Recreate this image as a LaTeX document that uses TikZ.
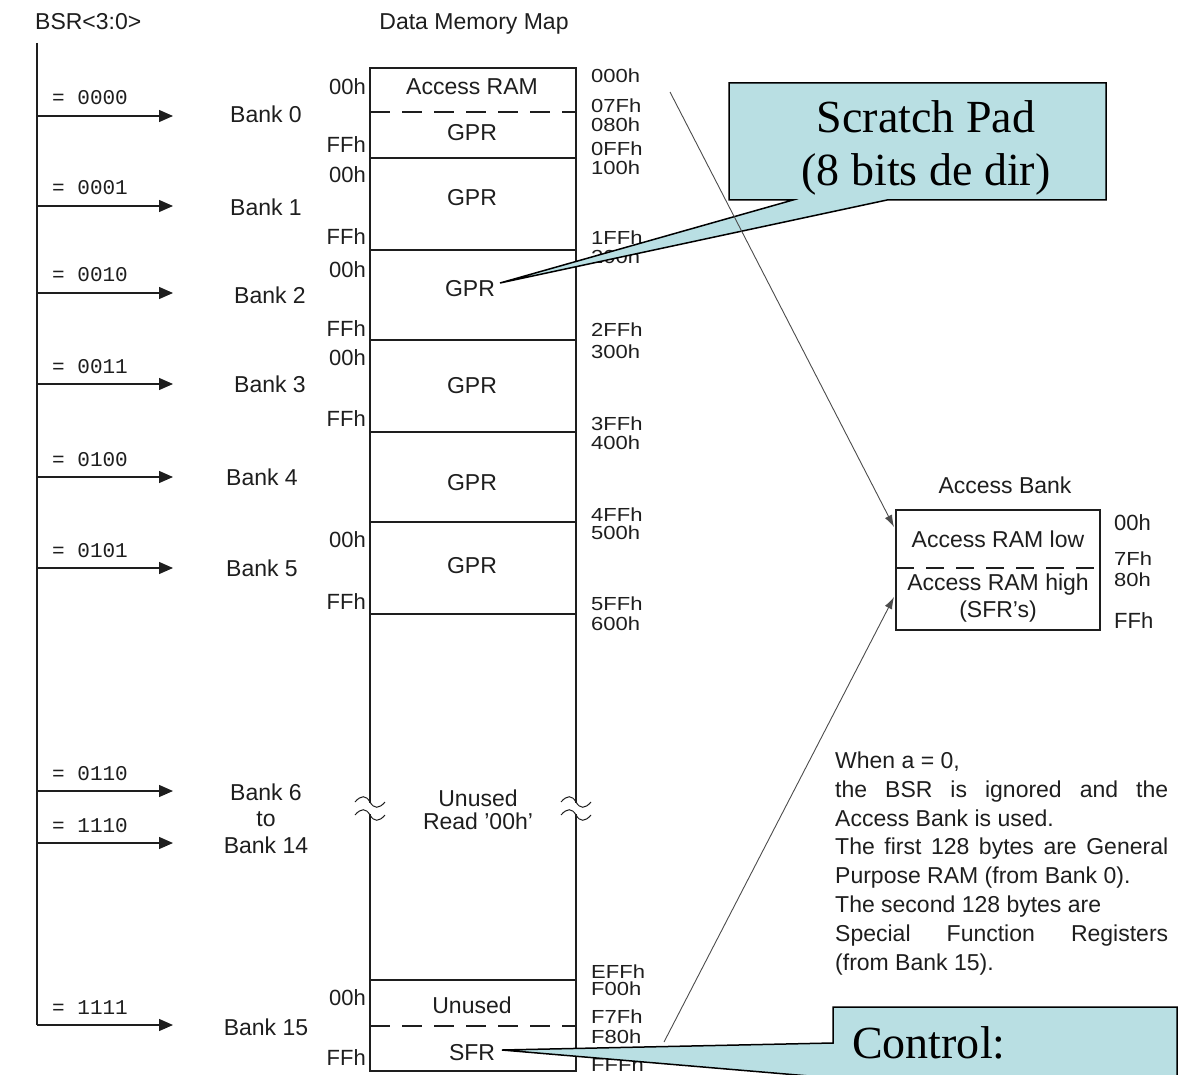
\documentclass[tikz,border=0pt]{standalone}
\usepackage{fontspec}
\setmainfont{Liberation Sans}
\newfontfamily\monof{Liberation Mono}
\newfontfamily\serf{Liberation Serif}
\usetikzlibrary{arrows.meta}
\definecolor{callfill}{RGB}{185,223,227}
\definecolor{ink}{RGB}{30,30,30}
\tikzset{
  txt/.style={font=\fontsize{23}{26}\selectfont, inner sep=0pt, text=ink},
  lab/.style={font=\fontsize{22}{24}\selectfont, inner sep=0pt, text=ink},
  bsr/.style={font=\monof\fontsize{21}{22}\selectfont, inner sep=0pt, anchor=base west, text=ink},
  memline/.style={line width=1.6pt, draw=ink},
  dashline/.style={line width=1.4pt, draw=ink, dash pattern=on 20pt off 12pt},
  arr/.style={-{Triangle[length=14pt,width=12pt]}, line width=1.3pt, draw=ink},
  diag/.style={-{Latex[length=12pt,width=8pt]}, line width=0.9pt, draw=black!70},
  callout/.style={fill=callfill, draw=black, line width=1.5pt, line join=miter},
  ctext/.style={font=\serf\fontsize{46}{50}\selectfont, inner sep=0pt},
}
\newcommand{\sq}[1]{\scalebox{1}[0.86]{#1}}
\begin{document}
\begin{tikzpicture}[x=1pt,y=-1pt]
\useasboundingbox (0,0) rectangle (1180,1075);
\clip (0,0) rectangle (1180,1075);

% titles
\node[txt, anchor=base west] (bsrt) at (35,30) {BSR<3:0>};
\node[txt, anchor=base] (dmm) at (474,30) {Data Memory Map};

% BSR bus
\coordinate (bt) at (37,43);
\coordinate (bb) at (37,1025);
\draw[line width=1.5pt, draw=ink] (bt) -- (bb);
\foreach \y/\v [count=\i] in {116/0000, 206/0001, 293/0010, 384/0011, 477/0100, 568/0101, 791/0110, 843/1110, 1025/1111} {
  \coordinate (s\i) at (37,\y);
  \coordinate (e\i) at (173,\y);
  \draw[arr] (s\i) -- (e\i);
  \node[bsr] (v\i) at (52,\y-11) {= \v};
}

% bank labels
\node[txt, anchor=base] (b0) at (266,123) {Bank 0};
\node[txt, anchor=base] (b1) at (266,216) {Bank 1};
\node[txt, anchor=base] (b2) at (270,303) {Bank 2};
\node[txt, anchor=base] (b3) at (270,392) {Bank 3};
\node[txt, anchor=base] (b4) at (262,485) {Bank 4};
\node[txt, anchor=base] (b5) at (262,576) {Bank 5};
\node[txt, anchor=base] (b6) at (266,800) {Bank 6};
\node[txt, anchor=base] (b6t) at (266,826) {to};
\node[txt, anchor=base] (b14) at (266,853) {Bank 14};
\node[txt, anchor=base] (b15) at (266,1035) {Bank 15};

% memory map
\draw[memline] (370,68) rectangle (576,1071);
\foreach \y in {158,250,340,432,522,614,980} \draw[memline] (370,\y) -- (576,\y);
\foreach \y in {112,1026} \draw[dashline] (370,\y) -- (576,\y);

% break marks
\foreach \x in {370,576} {
  \fill[white] (\x-3,803) rectangle (\x+3,814);
  \foreach \y in {802,815}
    \draw[line width=1pt, draw=ink] (\x-15,\y) .. controls (\x-9,\y-7) and (\x-4,\y-7) .. (\x,\y) .. controls (\x+4,\y+7) and (\x+9,\y+7) .. (\x+15,\y);
}

% block texts
\node[txt, anchor=base] (m0) at (472,95) {Access RAM};
\node[txt, anchor=base] (m1) at (472,141) {GPR};
\node[txt, anchor=base] (m2) at (472,206) {GPR};
\node[txt, anchor=base] (m3) at (470,296) {GPR};
\node[txt, anchor=base] (m4) at (472,393) {GPR};
\node[txt, anchor=base] (m5) at (472,490) {GPR};
\node[txt, anchor=base] (m6) at (472,573) {GPR};
\node[txt, anchor=base] (m7) at (478,806) {Unused};
\node[txt, anchor=base] (m8) at (478,829) {Read '00h'};
\node[txt, anchor=base] (m9) at (472,1013) {Unused};
\node[txt, anchor=base] (m10) at (472,1060) {SFR};

% left offsets
\foreach \t/\y [count=\i] in {00h/95, FFh/153, 00h/183, FFh/245, 00h/278, FFh/336, 00h/365, FFh/426, 00h/547, FFh/609, 00h/1005, FFh/1065}
  \node[lab, anchor=base east] (L\i) at (366,\y) {\t};

% right addresses
\foreach \t/\y [count=\i] in {000h/83, 07Fh/113, 080h/132, 0FFh/156, 100h/175, 1FFh/245, 200h/264, 2FFh/336, 300h/358, 3FFh/430, 400h/449, 4FFh/521, 500h/539, 5FFh/610, 600h/630, EFFh/978, F00h/995, F7Fh/1023, F80h/1043, FFFh/1071}
  \node[lab, anchor=base west] (R\i) at (591,\y) {\sq{\t}};

% access bank
\node[txt, anchor=base] (abt) at (1005,493) {Access Bank};
\draw[memline, line width=1.4pt] (896,510) rectangle (1100,630);
\draw[dashline, dash pattern=on 18pt off 12pt] (896,568) -- (1100,568);
\node[txt, anchor=base] (ab1t) at (998,547) {Access RAM low};
\node[txt, anchor=base] (ab2t) at (998,590) {Access RAM high};
\node[txt, anchor=base] (ab3t) at (998,617) {(SFR's)};
\node[lab, anchor=base west] (a00) at (1114,530) {00h};
\node[lab, anchor=base west] (a7f) at (1114,565) {\sq{7Fh}};
\node[lab, anchor=base west] (a80) at (1114,586) {\sq{80h}};
\node[lab, anchor=base west] (aff) at (1114,628) {FFh};

% explanation
\node[txt, anchor=base west] (t1) at (835,768) {When a = 0,};
\node[txt, anchor=base west] (t2) at (835,797) {\makebox[333pt][s]{the BSR is ignored and the}};
\node[txt, anchor=base west] (t3) at (835,826) {Access Bank is used.};
\node[txt, anchor=base west] (t4) at (835,854) {\makebox[333pt][s]{The first 128 bytes are General}};
\node[txt, anchor=base west] (t5) at (835,883) {Purpose RAM (from Bank 0).};
\node[txt, anchor=base west] (t6) at (835,912) {The second 128 bytes are};
\node[txt, anchor=base west] (t7) at (835,941) {\makebox[333pt][s]{Special Function Registers}};
\node[txt, anchor=base west] (t8) at (835,970) {(from Bank 15).};

% callouts
\coordinate (tipA) at (500,283);
\filldraw[callout] (729,83) -- (1106,83) -- (1106,200) -- (887,200) -- (tipA) -- (793,200) -- (729,200) -- cycle;
\node[ctext, anchor=base] (sp1) at (926,133) {Scratch Pad};
\node[ctext, anchor=base] (sp2) at (926,186) {(8 bits de dir)};

\coordinate (tipB) at (502,1050);
\filldraw[callout] (833,1007) -- (1177,1007) -- (1177,1120) -- (833,1120) -- (833,1078) -- (tipB) -- (833,1043) -- cycle;
\node[ctext, anchor=base west] (ctl) at (852,1058) {Control:};

% access bank arrows
\coordinate (c1) at (670,92);
\coordinate (c2) at (664,1042);
\coordinate (ab1) at (894,527);
\coordinate (ab2) at (894,597);
\draw[diag] (c1) -- (ab1);
\draw[diag] (c2) -- (ab2);
\end{tikzpicture}
\end{document}
